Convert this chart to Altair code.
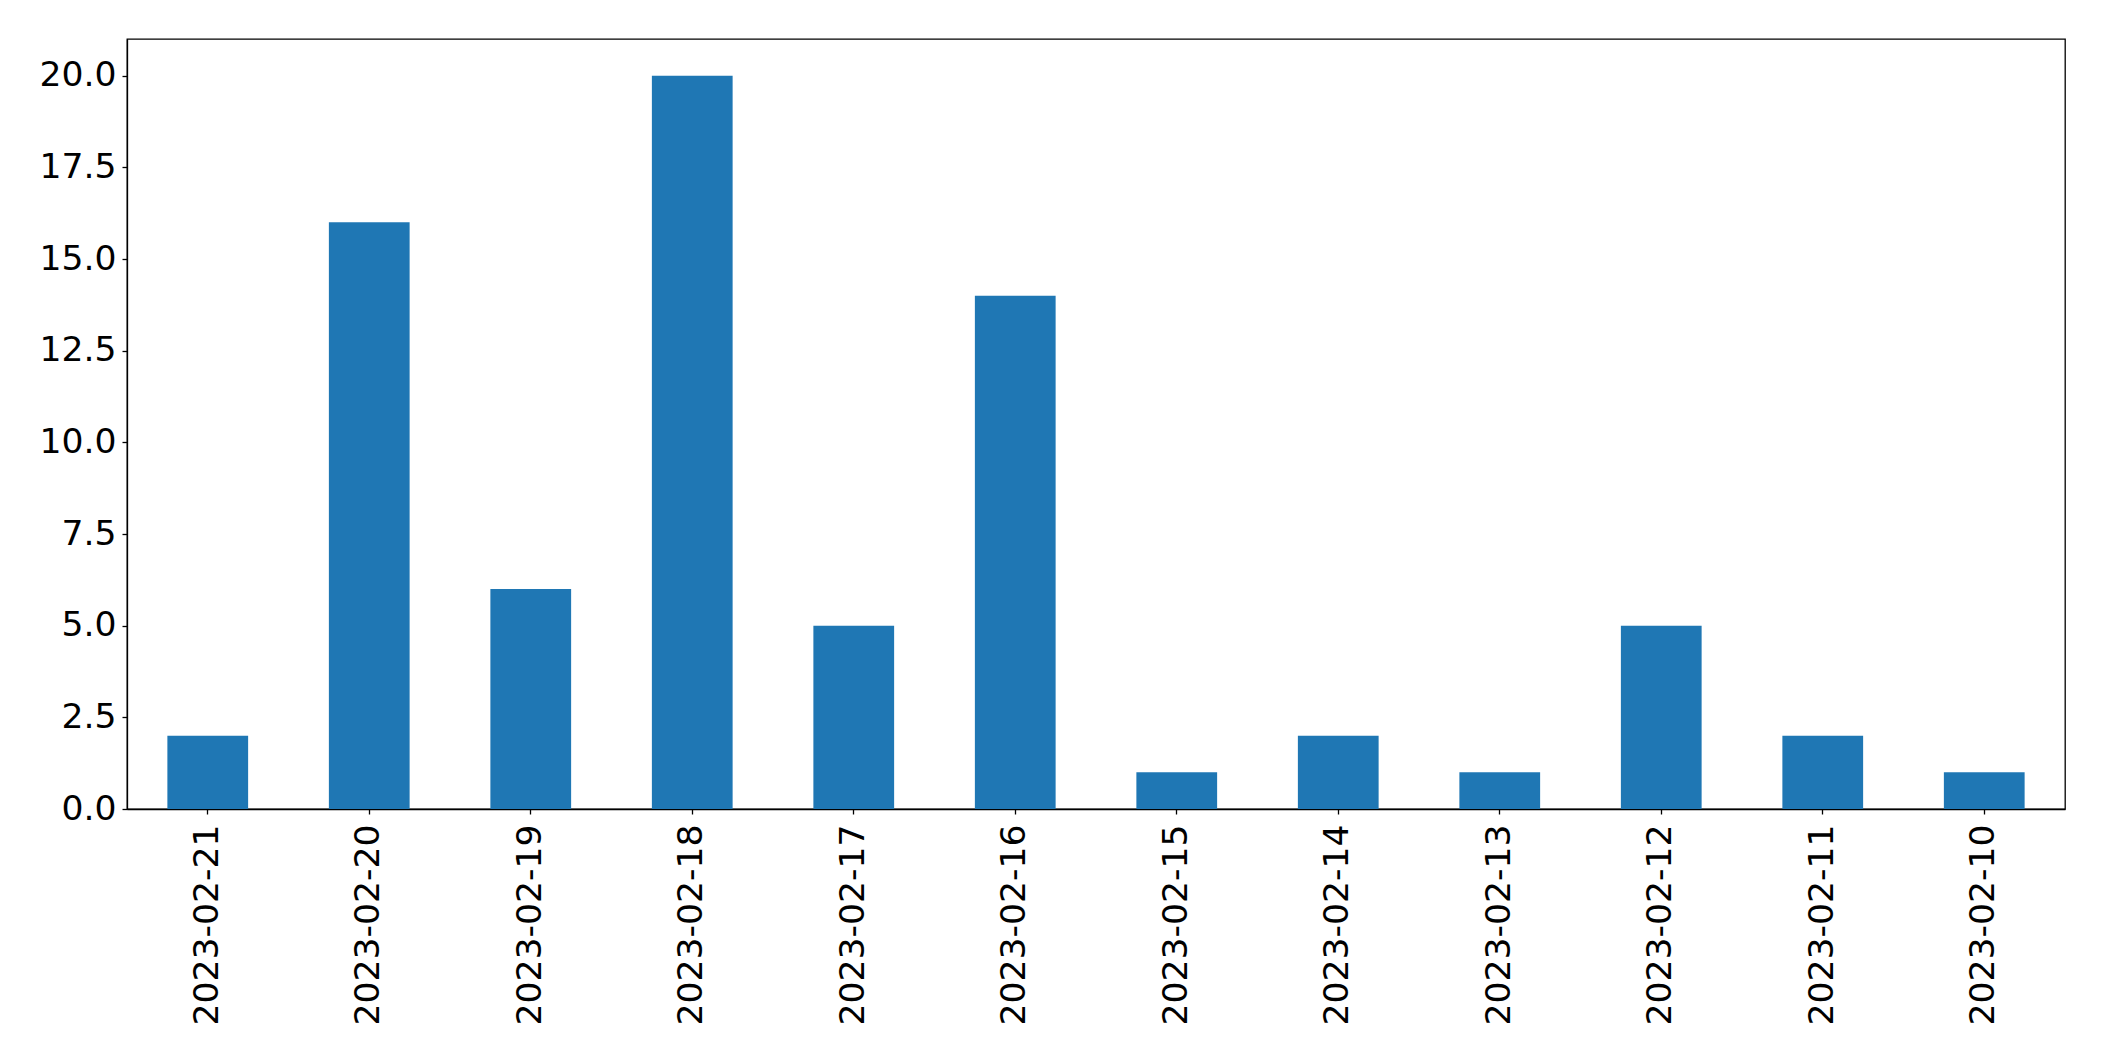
import altair as alt
import pandas as pd

dates = ["2023-02-21", "2023-02-20", "2023-02-19", "2023-02-18", "2023-02-17", "2023-02-16",
         "2023-02-15", "2023-02-14", "2023-02-13", "2023-02-12", "2023-02-11", "2023-02-10"]
counts = [2, 16, 6, 20, 5, 14, 1, 2, 1, 5, 2, 1]
y_ticks = [0, 2.5, 5, 7.5, 10, 12.5, 15, 17.5, 20]

df = pd.DataFrame({"date": dates, "count": counts})

chart = alt.Chart(df).mark_bar(color="#1f77b4").encode(
    x=alt.X("date:N", sort=dates, title=None,
            scale=alt.Scale(paddingInner=0.5, paddingOuter=0.25),
            axis=alt.Axis(labelAngle=270, labelAlign="right", labelBaseline="middle",
                          labelPadding=10, tickSize=5, labelFontSize=34.6, labelLimit=1000)),
    y=alt.Y("count:Q", title=None, scale=alt.Scale(domain=[0, 21], nice=False),
            axis=alt.Axis(values=y_ticks, format=".1f", tickSize=5, labelPadding=6,
                          labelFontSize=34.6, grid=False, labelLimit=1000)),
).properties(
    width=1938, height=770,
    autosize=alt.AutoSizeParams(type="none"),
    padding={"left": 119, "top": 31, "right": 30, "bottom": 240},
).configure_axis(
    domainColor="black", tickColor="black", labelColor="black",
    labelFont="DejaVu Sans", domainWidth=1.3, tickWidth=1.3,
).configure_view(
    stroke="black", strokeWidth=1.3,
)

chart.save("out.html", embed_options={"renderer": "svg", "actions": False})
